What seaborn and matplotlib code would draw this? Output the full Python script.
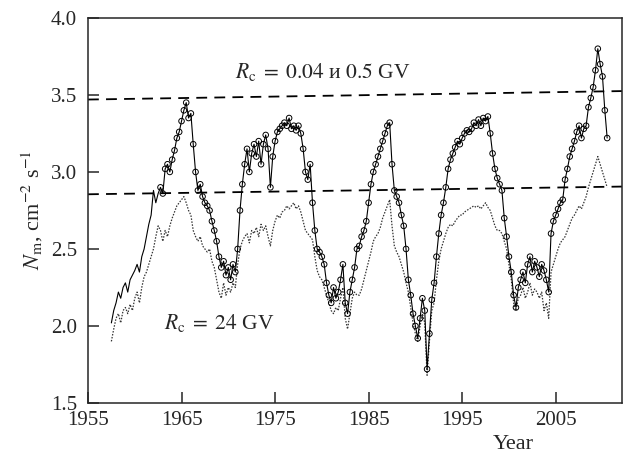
import numpy as np
import pandas as pd
import matplotlib
matplotlib.use("Agg")
import matplotlib.pyplot as plt
import seaborn as sns

# ---- data (quarterly samples) ----
t_start = 1957.5
t_step = 0.25

high_rc = [  # Rc = 0.04 and 0.5 GV
    2.02, 2.10,
    2.15, 2.22, 2.18, 2.25,
    2.28, 2.22, 2.30, 2.33,
    2.36, 2.40, 2.35, 2.45,
    2.50, 2.58, 2.66, 2.72,
    2.88, 2.80, 2.86, 2.90,
    2.86, 3.02, 3.05, 3.00,
    3.08, 3.14, 3.22, 3.26,
    3.33, 3.40, 3.45, 3.35,
    3.38, 3.18, 3.00, 2.88,
    2.92, 2.84, 2.80, 2.78,
    2.75, 2.68, 2.62, 2.55,
    2.45, 2.38, 2.42, 2.33,
    2.38, 2.30, 2.40, 2.35,
    2.50, 2.75, 2.92, 3.05,
    3.15, 3.00, 3.12, 3.18,
    3.10, 3.20, 3.05, 3.18,
    3.24, 3.15, 2.90, 3.10,
    3.20, 3.26, 3.28, 3.30,
    3.32, 3.30, 3.35, 3.28,
    3.30, 3.27, 3.30, 3.25,
    3.15, 3.00, 2.95, 3.05,
    2.80, 2.62, 2.50, 2.48,
    2.45, 2.40, 2.28, 2.20,
    2.15, 2.25, 2.18, 2.22,
    2.30, 2.40, 2.15, 2.08,
    2.22, 2.30, 2.38, 2.50,
    2.52, 2.58, 2.62, 2.68,
    2.80, 2.92, 3.00, 3.05,
    3.10, 3.15, 3.20, 3.25,
    3.30, 3.32, 3.05, 2.88,
    2.84, 2.80, 2.72, 2.65,
    2.50, 2.30, 2.20, 2.08,
    2.00, 1.92, 2.05, 2.18,
    2.10, 1.72, 1.95, 2.17,
    2.28, 2.45, 2.60, 2.72,
    2.80, 2.90, 3.02, 3.08,
    3.12, 3.16, 3.20, 3.18,
    3.22, 3.25, 3.27, 3.26,
    3.28, 3.32, 3.30, 3.34,
    3.30, 3.35, 3.33, 3.36,
    3.25, 3.12, 3.02, 2.96,
    2.92, 2.88, 2.70, 2.58,
    2.45, 2.35, 2.20, 2.12,
    2.25, 2.30, 2.35, 2.28,
    2.40, 2.45, 2.35, 2.42,
    2.38, 2.32, 2.40, 2.36,
    2.30, 2.22, 2.60, 2.68,
    2.72, 2.76, 2.80, 2.82,
    2.95, 3.02, 3.10, 3.15,
    3.20, 3.26, 3.30, 3.22,
    3.28, 3.30, 3.42, 3.48,
    3.55, 3.66, 3.80, 3.70,
    3.62, 3.40, 3.22,
]

low_rc = [  # Rc = 24 GV
    1.90, 1.98,
    2.05, 2.08, 2.02, 2.10,
    2.12, 2.08, 2.14, 2.10,
    2.18, 2.22, 2.15, 2.25,
    2.32, 2.35, 2.40, 2.45,
    2.50, 2.58, 2.65, 2.62,
    2.55, 2.62, 2.58, 2.65,
    2.70, 2.74, 2.78, 2.80,
    2.82, 2.84, 2.80, 2.75,
    2.72, 2.62, 2.58, 2.55,
    2.58, 2.52, 2.50, 2.48,
    2.50, 2.42, 2.38, 2.30,
    2.22, 2.18, 2.28, 2.20,
    2.25, 2.22, 2.28, 2.25,
    2.40, 2.50, 2.55, 2.58,
    2.60, 2.54, 2.62, 2.60,
    2.64, 2.58, 2.66, 2.62,
    2.65, 2.58, 2.52, 2.62,
    2.68, 2.72, 2.70, 2.74,
    2.75, 2.78, 2.76, 2.78,
    2.80, 2.76, 2.78, 2.74,
    2.68, 2.62, 2.60, 2.58,
    2.56, 2.45, 2.36, 2.32,
    2.30, 2.25, 2.20, 2.15,
    2.10, 2.08, 2.12, 2.10,
    2.18, 2.25, 2.05, 1.98,
    2.08, 2.18, 2.22, 2.20,
    2.20, 2.24, 2.30, 2.36,
    2.42, 2.48, 2.55, 2.58,
    2.60, 2.64, 2.70, 2.74,
    2.78, 2.82, 2.65, 2.52,
    2.48, 2.45, 2.40, 2.35,
    2.28, 2.22, 2.12, 2.02,
    1.95, 1.90, 2.00, 2.08,
    2.02, 1.68, 1.90, 2.10,
    2.15, 2.30, 2.42, 2.50,
    2.55, 2.60, 2.64, 2.66,
    2.65, 2.68, 2.70, 2.72,
    2.72, 2.74, 2.75, 2.76,
    2.77, 2.78, 2.77, 2.78,
    2.76, 2.78, 2.80, 2.77,
    2.75, 2.70, 2.65, 2.62,
    2.62, 2.60, 2.55, 2.50,
    2.40, 2.30, 2.15, 2.10,
    2.18, 2.20, 2.25, 2.18,
    2.22, 2.28, 2.20, 2.24,
    2.22, 2.18, 2.22, 2.10,
    2.15, 2.05, 2.35, 2.40,
    2.45, 2.50, 2.54, 2.56,
    2.58, 2.62, 2.66, 2.70,
    2.72, 2.75, 2.78, 2.76,
    2.80, 2.84, 2.90, 2.95,
    3.00, 3.05, 3.10, 3.05,
    3.00, 2.95, 2.90,
]

marker_start = 1962.75   # open circles drawn from here on

trend_x = [1955.0, 2012.1]
trend_high = [3.47, 3.525]
trend_low = [2.855, 2.905]

x_ticks = [1955, 1965, 1975, 1985, 1995, 2005]
y_ticks = [1.5, 2.0, 2.5, 3.0, 3.5, 4.0]

label_high = r"$R_{\rm c}\;=\;0.04$ и $0.5$ GV"
label_low = r"$R_{\rm c}\;=\;24$ GV"

# ---- build tables ----
years = t_start + t_step * np.arange(len(high_rc))
df = pd.DataFrame({"year": years, "high": high_rc, "low": low_rc})
df_mark = df[df["year"] >= marker_start]
df_trend = pd.DataFrame({"year": trend_x, "hi": trend_high, "lo": trend_low})

# ---- style ----
sns.set_style("ticks")
plt.rcParams["font.family"] = ["Liberation Serif", "DejaVu Serif"]
plt.rcParams["mathtext.fontset"] = "stix"

fig = plt.figure(figsize=(6.24, 4.59), dpi=100)
ax = fig.add_axes([0.141, 0.122, 0.856, 0.839])

sns.lineplot(data=df, x="year", y="low", ax=ax, color="#333333",
             linewidth=0.9, linestyle=(0, (1.2, 1.2)), estimator=None)
sns.lineplot(data=df, x="year", y="high", ax=ax, color="black",
             linewidth=0.8, estimator=None)
sns.scatterplot(data=df_mark, x="year", y="high", ax=ax, s=16,
                facecolors="none", edgecolor="black", linewidth=0.7,
                zorder=3)
sns.lineplot(data=df_trend, x="year", y="hi", ax=ax, color="black",
             linewidth=1.3, linestyle=(0, (6, 4)), estimator=None)
sns.lineplot(data=df_trend, x="year", y="lo", ax=ax, color="black",
             linewidth=1.3, linestyle=(0, (6, 4)), estimator=None)

ax.set_xlim(1955, 2012.1)
ax.set_ylim(1.5, 4.0)
ax.set_xticks(x_ticks)
ax.set_yticks(y_ticks)
ax.set_yticklabels([f"{v:.1f}" for v in y_ticks])
ax.tick_params(axis="both", direction="in", length=8, width=1.1,
               labelsize=15, top=False, right=False)
ax.tick_params(axis="y", pad=8)
ax.tick_params(axis="x", pad=6)
for sp in ax.spines.values():
    sp.set_linewidth(1.1)
    sp.set_visible(True)

ax.set_xlabel("")
ax.set_ylabel(r"$N_{\rm m}$, cm$^{-2}$ s$^{-1}$", fontsize=16, labelpad=4)
ax.text(0.796, -0.084, "Year", transform=ax.transAxes, ha="center",
        va="top", fontsize=16)

ax.text(1980.1, 3.65, label_high, ha="center", va="center", fontsize=15.5)
ax.text(1969.0, 2.02, label_low, ha="center", va="center", fontsize=15.5)

fig.savefig("out.png", dpi=100)
